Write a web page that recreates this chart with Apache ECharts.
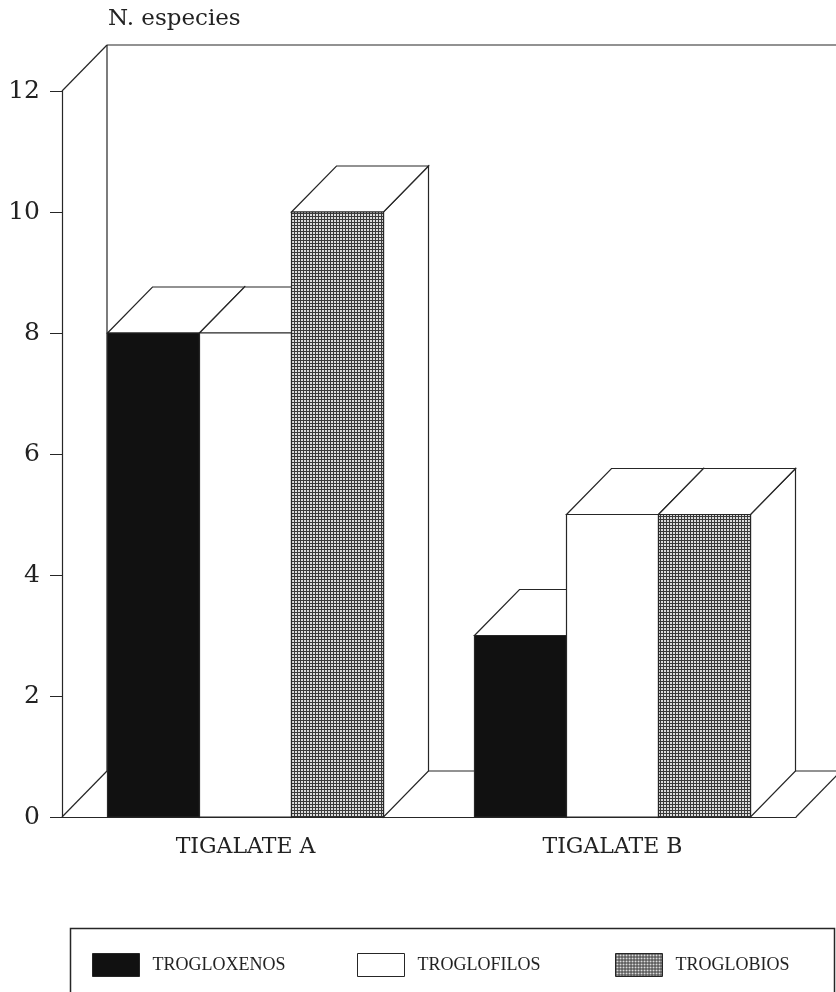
<!DOCTYPE html>
<html>
<head>
<meta charset="utf-8">
<script src="https://cdn.jsdelivr.net/npm/echarts@6/dist/echarts.min.js"></script>
<style>
  html, body { margin: 0; padding: 0; background: #ffffff; }
  #chart { width: 836px; height: 992px; }
</style>
</head>
<body>
<div id="chart"></div>
<script>
// ---- data ----
const categories = ['TIGALATE A', 'TIGALATE B'];
const seriesNames = ['TROGLOXENOS', 'TROGLOFILOS', 'TROGLOBIOS'];
const trogloxenos = [8, 3];
const troglofilos = [8, 5];
const troglobios = [10, 5];
const yTicks = [0, 2, 4, 6, 8, 10, 12];
const yAxisTitle = 'N. especies';

// ---- styling ----
const LINE = '#262626';
const DX = 45, DY = 46;          // 3D depth offset (px)
const BAR_RATIO = 92 / 367;       // bar width as fraction of category band
const serifWide = 'DejaVu Serif';
const serifNarrow = 'Liberation Serif';

function makePattern() {
  const c = document.createElement('canvas');
  c.width = 3; c.height = 3;
  const g = c.getContext('2d');
  g.fillStyle = '#3a3a3a';
  g.fillRect(0, 0, 3, 3);
  g.fillStyle = '#dcdcdc';
  g.fillRect(1, 1, 2, 2);
  return { image: c, repeat: 'repeat' };
}
const patt = makePattern();
const fills = ['#111111', '#ffffff', patt];
const values = [trogloxenos, troglofilos, troglobios];

function barRender(idx) {
  return function (params, api) {
    const cat = api.value(0);
    const v = api.value(1);
    const top = api.coord([cat, v]);
    const base = api.coord([cat, 0]);
    const band = api.size([1, 0])[0];
    const bw = band * BAR_RATIO;
    const xL = top[0] + (idx - 1.5) * bw;
    const xR = xL + bw;
    const yT = top[1], yB = base[1];
    const st = { stroke: LINE, lineWidth: 1.2 };
    return {
      type: 'group',
      children: [
        { type: 'polygon', shape: { points: [[xR, yT], [xR + DX, yT - DY], [xR + DX, yB - DY], [xR, yB]] },
          style: Object.assign({ fill: '#ffffff' }, st) },
        { type: 'polygon', shape: { points: [[xL, yT], [xR, yT], [xR + DX, yT - DY], [xL + DX, yT - DY]] },
          style: Object.assign({ fill: '#ffffff' }, st) },
        { type: 'rect', shape: { x: xL, y: yT, width: bw, height: yB - yT },
          style: Object.assign({ fill: fills[idx] }, st) }
      ]
    };
  };
}

function frameRender(params, api) {
  const cs = params.coordSys;
  const x0 = cs.x, x1 = cs.x + cs.width, y0 = cs.y, y1 = cs.y + cs.height;
  const st = { stroke: LINE, lineWidth: 1.2, fill: null };
  const line = (a, b, c, d) => ({ type: 'line', shape: { x1: a, y1: b, x2: c, y2: d }, style: st });
  return {
    type: 'group',
    children: [
      line(x0 + DX, y0 - DY, x1 + DX, y0 - DY),
      line(x0 + DX, y0 - DY, x0 + DX, y1 - DY),
      line(x0 + DX, y1 - DY, x1 + DX, y1 - DY),
      line(x1 + DX, y0 - DY, x1 + DX, y1 - DY),
      line(x0, y0, x0 + DX, y0 - DY),
      line(x0, y1, x0 + DX, y1 - DY),
      line(x1, y1, x1 + DX, y1 - DY)
    ]
  };
}

const chart = echarts.init(document.getElementById('chart'));

const series = [{
  type: 'custom', name: '__frame', renderItem: frameRender, data: [[0, 0]],
  silent: true, z: 1, clip: false
}];
seriesNames.forEach((n, i) => {
  series.push({
    type: 'custom', name: n, renderItem: barRender(i), z: 2, clip: false,
    itemStyle: { color: fills[i], borderColor: LINE, borderWidth: 1 },
    data: values[i].map((v, k) => [k, v])
  });
});

const legendLefts = [92, 357, 615];
const legends = seriesNames.map((n, i) => ({
  left: legendLefts[i], top: 953, padding: 0,
  itemWidth: 47, itemHeight: 23, icon: 'rect',
  selectedMode: false,
  textStyle: { fontFamily: serifNarrow, fontSize: 18, color: '#222', padding: [2, 0, 0, 8] },
  data: [{ name: n, itemStyle: { color: fills[i], borderColor: LINE, borderWidth: 1 } }]
}));

chart.setOption({
  backgroundColor: '#ffffff',
  animation: false,
  title: {
    text: yAxisTitle, left: 108, top: 8, padding: 0,
    textStyle: { fontFamily: serifWide, fontSize: 23, fontWeight: 'normal', color: '#222' }
  },
  grid: { left: 62, top: 91, width: 734, height: 726, containLabel: false },
  xAxis: {
    type: 'category', data: categories,
    axisLine: { lineStyle: { color: LINE, width: 1.2 } },
    axisTick: { alignWithLabel: true, length: 10, lineStyle: { color: LINE } },
    axisLabel: { fontFamily: serifWide, fontSize: 22, color: '#222', margin: 19 },
    splitLine: { show: false }
  },
  yAxis: {
    type: 'value', min: yTicks[0], max: yTicks[yTicks.length - 1], interval: yTicks[1] - yTicks[0],
    axisLine: { show: true, lineStyle: { color: LINE, width: 1.2 } },
    axisTick: { show: true, length: 12, lineStyle: { color: LINE } },
    axisLabel: { fontFamily: serifWide, fontSize: 25, color: '#222', margin: 22 },
    splitLine: { show: false }
  },
  legend: legends,
  graphic: [{
    type: 'rect', left: 68, top: 926, z: 0,
    shape: { width: 764, height: 90 },
    style: { fill: null, stroke: LINE, lineWidth: 1.5 }
  }],
  series: series
});
</script>
</body>
</html>
